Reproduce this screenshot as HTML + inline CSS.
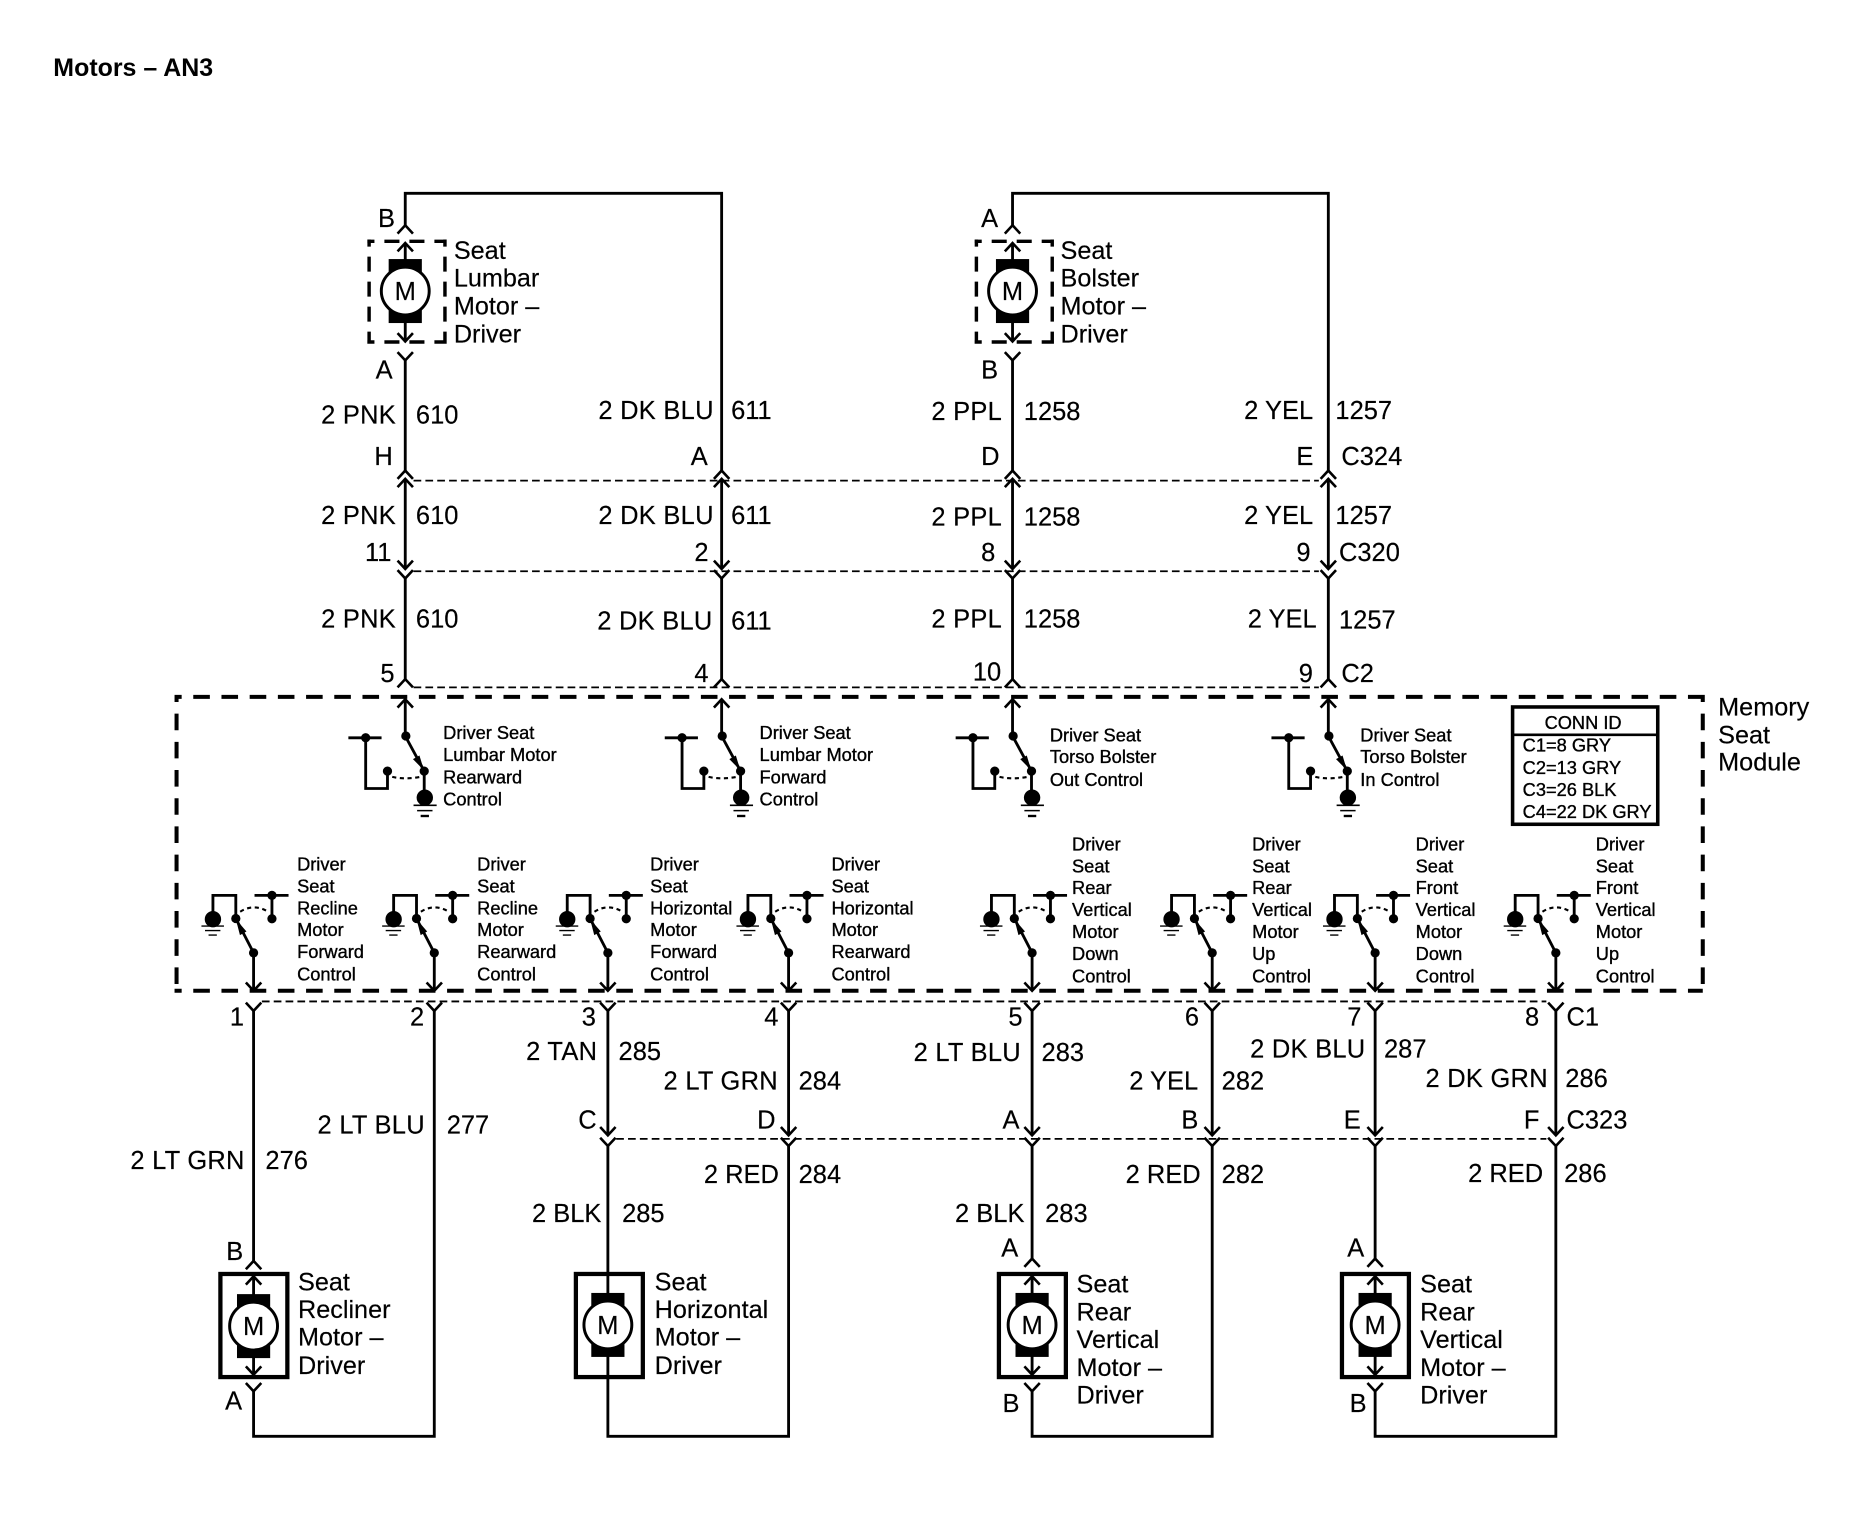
<!DOCTYPE html>
<html><head><meta charset="utf-8"><style>
html,body{margin:0;padding:0;background:#fff;width:1858px;height:1536px;overflow:hidden}
svg{display:block}
text{font-family:"Liberation Sans",sans-serif;fill:#000}
.l text{font-size:21.5px;stroke:#000;stroke-width:.15}
.l text.c{letter-spacing:.22px}
.l text.n{font-size:21.3px}
.s text{font-size:15.4px;stroke:#000;stroke-width:.3}
.w{fill:none;stroke:#000;stroke-width:2.4}
.t{fill:none;stroke:#000;stroke-width:1.5;stroke-dasharray:6.5 3.5}
.m{fill:none;stroke:#000;stroke-width:3.4;stroke-dasharray:14 9.8;stroke-dashoffset:8}
.b{fill:none;stroke:#000;stroke-width:3.6}
.q{fill:none;stroke:#000;stroke-width:2.9;stroke-dasharray:12.7 8.4;stroke-dashoffset:6.7}
</style></head><body>
<svg xmlns="http://www.w3.org/2000/svg" width="1858" height="1536" viewBox="0 0 1568 1296">
<defs>
<polyline id="u" points="-6.5,7 0,0 6.5,7" fill="none" stroke="#000" stroke-width="2.2"/>
<polyline id="d" points="-6.5,-7 0,0 6.5,-7" fill="none" stroke="#000" stroke-width="2.2"/>
<g id="mot">
<rect x="-14" y="-27" width="28" height="54" fill="#000"/>
<circle r="20.2" fill="#fff" stroke="#000" stroke-width="2.5"/>
</g>
<g id="sw1">
<use href="#u" y="590"/>
<path class="w" d="M0,590V621L16,650.6V673"/>
<path d="M15.8,650L6.5,640.5L12,637.5Z" fill="#000"/>
<circle cx="0.5" cy="621" r="3.9"/><circle cx="16" cy="650.6" r="3.9"/><circle cx="-15" cy="650.6" r="3.9"/>
<circle cx="16.5" cy="673" r="6.9"/>
<path d="M7,679.5H26.5M10,684H23" stroke="#000" stroke-width="1.3" fill="none"/>
<path d="M13,688.5H20" stroke="#000" stroke-width="2" fill="none"/>
<path class="w" d="M-48,622.5H-20M-33.4,622.5V665.3H-15V650.6"/>
<circle cx="-33.4" cy="622.5" r="3.9"/>
<path d="M-11,655.5Q0,658 12.5,655.5" fill="none" stroke="#000" stroke-width="1.8" stroke-dasharray="3.5 3"/>
</g>
<g id="sw2">
<use href="#d" y="836"/>
<path class="w" d="M0,836V804L-15,775"/>
<path d="M-15,775.5L-11.5,789L-6,786Z" fill="#000"/>
<circle cx="0" cy="804" r="3.9"/><circle cx="-15" cy="775" r="3.9"/><circle cx="15.5" cy="775.2" r="3.9"/>
<circle cx="-34.3" cy="775.6" r="6.9"/>
<path d="M-44,781.4H-25M-41,785.2H-28M-38,789H-31" stroke="#000" stroke-width="1.1" fill="none"/>
<path class="w" d="M-34.3,775V755.5H-15V775M0.8,755.5H29.5M15.5,755.5V775"/>
<circle cx="15.5" cy="755.5" r="3.9"/>
<path d="M-11.3,769.3Q0,762 12.4,769.3" fill="none" stroke="#000" stroke-width="1.8" stroke-dasharray="3.5 3"/>
</g>
</defs>

<text x="45" y="64" font-weight="bold" font-size="21.05">Motors – AN3</text>

<!-- module -->
<path class="m" d="M147.3,588H1437M147.3,836H1437M149,586.3V836M1437,586.3V836"/>
<!-- connector lines -->
<path class="t" d="M349,405.5H1113M349,482H1113M349,580H1113M221,845H1305M520,961H1305"/>

<!-- top wires -->
<path class="w" d="M342,190V163H609V397M854.5,190V163H1121V397M342,304V397M854.5,304V397"/>
<path class="w" d="M342,404V480M609,404V480M854.5,404V480M1121,404V480M342,488V573M609,488V573M854.5,488V573M1121,488V573"/>
<g>
<use href="#u" x="342" y="190"/><use href="#u" x="854.5" y="190"/>
<use href="#d" x="342" y="304"/><use href="#d" x="854.5" y="304"/>
<use href="#u" x="342" y="397"/><use href="#u" x="342" y="404"/><use href="#u" x="609" y="397"/><use href="#u" x="609" y="404"/>
<use href="#u" x="854.5" y="397"/><use href="#u" x="854.5" y="404"/><use href="#u" x="1121" y="397"/><use href="#u" x="1121" y="404"/>
<use href="#d" x="342" y="480"/><use href="#d" x="342" y="488"/><use href="#d" x="609" y="480"/><use href="#d" x="609" y="488"/>
<use href="#d" x="854.5" y="480"/><use href="#d" x="854.5" y="488"/><use href="#d" x="1121" y="480"/><use href="#d" x="1121" y="488"/>
<use href="#u" x="342" y="573"/><use href="#u" x="609" y="573"/><use href="#u" x="854.5" y="573"/><use href="#u" x="1121" y="573"/>
</g>

<!-- top motors -->
<path class="q" d="M310,203.5H376.9M310,288.5H376.9M311.5,202V290M375.5,202V290"/>
<path class="q" d="M822.5,203.5H889.4M822.5,288.5H889.4M824,202V290M888,202V290"/>
<path class="w" d="M342,205V288M854.5,205V288"/>
<use href="#u" x="342" y="205"/><use href="#d" x="342" y="288"/>
<use href="#u" x="854.5" y="205"/><use href="#d" x="854.5" y="288"/>
<use href="#mot" x="342" y="245.5"/><use href="#mot" x="854.5" y="245.5"/>

<!-- switches -->
<use href="#sw1" x="342"/><use href="#sw1" x="609"/><use href="#sw1" x="854.5"/><use href="#sw1" x="1121"/>
<use href="#sw2" x="214"/><use href="#sw2" x="366.5"/><use href="#sw2" x="513"/><use href="#sw2" x="665.5"/>
<use href="#sw2" x="871"/><use href="#sw2" x="1023"/><use href="#sw2" x="1160.5"/><use href="#sw2" x="1313"/>

<!-- lower wires -->
<path class="w" d="M214,853V1064M366.5,853V1212H214V1174M214,1077V1160"/>
<path class="w" d="M513,853V958M513,967V1212H665.5V967M665.5,853V958"/>
<path class="w" d="M871,853V958M871,967V1062M871,1077V1160M871,1174V1212H1023V967M1023,853V958"/>
<path class="w" d="M1160.5,853V958M1160.5,967V1062M1160.5,1077V1160M1160.5,1174V1212H1313V967M1313,853V958"/>
<g>
<use href="#d" x="214" y="853"/><use href="#d" x="366.5" y="853"/><use href="#d" x="513" y="853"/><use href="#d" x="665.5" y="853"/>
<use href="#d" x="871" y="853"/><use href="#d" x="1023" y="853"/><use href="#d" x="1160.5" y="853"/><use href="#d" x="1313" y="853"/>
<use href="#d" x="513" y="958"/><use href="#d" x="513" y="967"/><use href="#d" x="665.5" y="958"/><use href="#d" x="665.5" y="967"/>
<use href="#d" x="871" y="958"/><use href="#d" x="871" y="967"/><use href="#d" x="1023" y="958"/><use href="#d" x="1023" y="967"/>
<use href="#d" x="1160.5" y="958"/><use href="#d" x="1160.5" y="967"/><use href="#d" x="1313" y="958"/><use href="#d" x="1313" y="967"/>
<use href="#u" x="214" y="1064"/><use href="#u" x="871" y="1062"/><use href="#u" x="1160.5" y="1062"/>
<use href="#u" x="214" y="1077"/><use href="#u" x="871" y="1077"/><use href="#u" x="1160.5" y="1077"/>
<use href="#d" x="214" y="1160"/><use href="#d" x="871" y="1160"/><use href="#d" x="1160.5" y="1160"/>
<use href="#d" x="214" y="1174"/><use href="#d" x="871" y="1174"/><use href="#d" x="1160.5" y="1174"/>
</g>
<rect x="186" y="1075" width="56.5" height="87" class="b"/>
<rect x="486" y="1075" width="56.5" height="87" class="b"/>
<rect x="843" y="1075" width="56.5" height="87" class="b"/>
<rect x="1132.5" y="1075" width="56.5" height="87" class="b"/>
<use href="#mot" x="214" y="1119"/><use href="#mot" x="513" y="1118"/><use href="#mot" x="871" y="1118"/><use href="#mot" x="1160.5" y="1118"/>

<!-- conn table -->
<rect x="1276.5" y="596.5" width="122.5" height="99" fill="#fff" stroke="#000" stroke-width="3"/>
<path d="M1276.5,620H1399" stroke="#000" stroke-width="2.2"/>

<g class="l" transform="translate(0,-0.7)">
<text x="342" y="253.7" text-anchor="middle">M</text>
<text x="854.5" y="253.7" text-anchor="middle">M</text>
<text x="214" y="1127.4" text-anchor="middle">M</text>
<text x="513" y="1126.4" text-anchor="middle">M</text>
<text x="871" y="1126.4" text-anchor="middle">M</text>
<text x="1160.5" y="1126.4" text-anchor="middle">M</text>

<text x="319" y="192">B</text><text x="828" y="192">A</text>
<text class="n" x="383" y="219">Seat</text><text class="n" x="383" y="242.5">Lumbar</text><text class="n" x="383" y="266">Motor –</text><text class="n" x="383" y="289.5">Driver</text>
<text class="n" x="895" y="219">Seat</text><text class="n" x="895" y="242.5">Bolster</text><text class="n" x="895" y="266">Motor –</text><text class="n" x="895" y="289.5">Driver</text>
<text x="317" y="320">A</text><text x="828" y="320">B</text>

<text class="c" x="271" y="358">2 PNK</text><text x="351" y="358">610</text>
<text class="c" x="505" y="354">2 DK BLU</text><text x="617" y="354">611</text>
<text class="c" x="786" y="355">2 PPL</text><text x="864" y="355">1258</text>
<text x="1050" y="354">2 YEL</text><text x="1127" y="354">1257</text>

<text x="316" y="393">H</text><text x="583" y="393">A</text><text x="828" y="393">D</text><text x="1094" y="393">E</text><text x="1132" y="393">C324</text>

<text class="c" x="271" y="443">2 PNK</text><text x="351" y="443">610</text>
<text class="c" x="505" y="443">2 DK BLU</text><text x="617" y="443">611</text>
<text class="c" x="786" y="444">2 PPL</text><text x="864" y="444">1258</text>
<text x="1050" y="443">2 YEL</text><text x="1127" y="443">1257</text>

<text x="308" y="474">11</text><text x="586" y="474">2</text><text x="828" y="474">8</text><text x="1094" y="474">9</text><text x="1130" y="474">C320</text>

<text class="c" x="271" y="530">2 PNK</text><text x="351" y="530">610</text>
<text class="c" x="504" y="532">2 DK BLU</text><text x="617" y="532">611</text>
<text class="c" x="786" y="530">2 PPL</text><text x="864" y="530">1258</text>
<text x="1053" y="530">2 YEL</text><text x="1130" y="531">1257</text>

<text x="321" y="576">5</text><text x="586" y="576">4</text><text x="821" y="575">10</text><text x="1096" y="576">9</text><text x="1132" y="576">C2</text>

<text class="n" x="1450" y="604.5">Memory</text><text class="n" x="1450" y="628">Seat</text><text class="n" x="1450" y="651">Module</text>

<text x="194" y="866">1</text><text x="346" y="866">2</text><text x="491" y="866">3</text><text x="645" y="866">4</text>
<text x="851" y="866">5</text><text x="1000" y="866">6</text><text x="1137" y="866">7</text><text x="1287" y="866">8</text><text x="1322" y="866">C1</text>

<text class="c" x="444" y="895">2 TAN</text><text x="522" y="895">285</text>
<text class="c" x="560" y="920">2 LT GRN</text><text x="674" y="920">284</text>
<text class="c" x="771" y="896">2 LT BLU</text><text x="879" y="896">283</text>
<text x="953" y="920">2 YEL</text><text x="1031" y="920">282</text>
<text class="c" x="1055" y="893">2 DK BLU</text><text x="1168" y="893">287</text>
<text class="c" x="1203" y="918">2 DK GRN</text><text x="1321" y="918">286</text>
<text class="c" x="268" y="957">2 LT BLU</text><text x="377" y="957">277</text>
<text class="c" x="110" y="987">2 LT GRN</text><text x="224" y="987">276</text>

<text x="488" y="953">C</text><text x="639" y="953">D</text><text x="846" y="953">A</text><text x="997" y="953">B</text><text x="1134" y="953">E</text><text x="1286" y="953">F</text><text x="1322" y="953">C323</text>

<text x="594" y="999">2 RED</text><text x="674" y="999">284</text>
<text x="950" y="999">2 RED</text><text x="1031" y="999">282</text>
<text x="1239" y="998">2 RED</text><text x="1320" y="998">286</text>
<text x="449" y="1032">2 BLK</text><text x="525" y="1032">285</text>
<text x="806" y="1032">2 BLK</text><text x="882" y="1032">283</text>

<text x="191" y="1064">B</text><text x="190" y="1190">A</text>
<text x="845" y="1061">A</text><text x="846" y="1192">B</text>
<text x="1137" y="1061">A</text><text x="1139" y="1192">B</text>

<text class="n" x="251.5" y="1089.5">Seat</text><text class="n" x="251.5" y="1113">Recliner</text><text class="n" x="251.5" y="1136">Motor –</text><text class="n" x="251.5" y="1160">Driver</text>
<text class="n" x="552.5" y="1089.5">Seat</text><text class="n" x="552.5" y="1113">Horizontal</text><text class="n" x="552.5" y="1136">Motor –</text><text class="n" x="552.5" y="1160">Driver</text>
<text class="n" x="908.5" y="1091.5">Seat</text><text class="n" x="908.5" y="1115">Rear</text><text class="n" x="908.5" y="1138">Vertical</text><text class="n" x="908.5" y="1162">Motor –</text><text class="n" x="908.5" y="1185">Driver</text>
<text class="n" x="1198.5" y="1091.5">Seat</text><text class="n" x="1198.5" y="1115">Rear</text><text class="n" x="1198.5" y="1138">Vertical</text><text class="n" x="1198.5" y="1162">Motor –</text><text class="n" x="1198.5" y="1185">Driver</text>
</g>

<g class="s">
<text x="374" y="623.5">Driver Seat</text><text x="374" y="642">Lumbar Motor</text><text x="374" y="661">Rearward</text><text x="374" y="679.5">Control</text>
<text x="641" y="623.5">Driver Seat</text><text x="641" y="642">Lumbar Motor</text><text x="641" y="661">Forward</text><text x="641" y="679.5">Control</text>
<text x="886" y="625.5">Driver Seat</text><text x="886" y="644">Torso Bolster</text><text x="886" y="663">Out Control</text>
<text x="1148" y="625.5">Driver Seat</text><text x="1148" y="644">Torso Bolster</text><text x="1148" y="663">In Control</text>
</g>
<g class="s" transform="translate(-0.3,-0.5)">
<text x="251" y="735">Driver</text><text x="251" y="753.5">Seat</text><text x="251" y="772">Recline</text><text x="251" y="790.5">Motor</text><text x="251" y="809">Forward</text><text x="251" y="828">Control</text>
<text x="403" y="735">Driver</text><text x="403" y="753.5">Seat</text><text x="403" y="772">Recline</text><text x="403" y="790.5">Motor</text><text x="403" y="809">Rearward</text><text x="403" y="828">Control</text>
<text x="549" y="735">Driver</text><text x="549" y="753.5">Seat</text><text x="549" y="772">Horizontal</text><text x="549" y="790.5">Motor</text><text x="549" y="809">Forward</text><text x="549" y="828">Control</text>
<text x="702" y="735">Driver</text><text x="702" y="753.5">Seat</text><text x="702" y="772">Horizontal</text><text x="702" y="790.5">Motor</text><text x="702" y="809">Rearward</text><text x="702" y="828">Control</text>

<text x="905" y="718">Driver</text><text x="905" y="736.5">Seat</text><text x="905" y="755">Rear</text><text x="905" y="773.5">Vertical</text><text x="905" y="792">Motor</text><text x="905" y="810.5">Down</text><text x="905" y="829.5">Control</text>
<text x="1057" y="718">Driver</text><text x="1057" y="736.5">Seat</text><text x="1057" y="755">Rear</text><text x="1057" y="773.5">Vertical</text><text x="1057" y="792">Motor</text><text x="1057" y="810.5">Up</text><text x="1057" y="829.5">Control</text>
<text x="1195" y="718">Driver</text><text x="1195" y="736.5">Seat</text><text x="1195" y="755">Front</text><text x="1195" y="773.5">Vertical</text><text x="1195" y="792">Motor</text><text x="1195" y="810.5">Down</text><text x="1195" y="829.5">Control</text>
<text x="1347" y="718">Driver</text><text x="1347" y="736.5">Seat</text><text x="1347" y="755">Front</text><text x="1347" y="773.5">Vertical</text><text x="1347" y="792">Motor</text><text x="1347" y="810.5">Up</text><text x="1347" y="829.5">Control</text>
</g>
<g class="s">
<text x="1336" y="615" text-anchor="middle">CONN ID</text>
<text x="1285" y="634">C1=8 GRY</text><text x="1285" y="653">C2=13 GRY</text><text x="1285" y="671.5">C3=26 BLK</text><text x="1285" y="690">C4=22 DK GRY</text>
</g>
</svg>
</body></html>
